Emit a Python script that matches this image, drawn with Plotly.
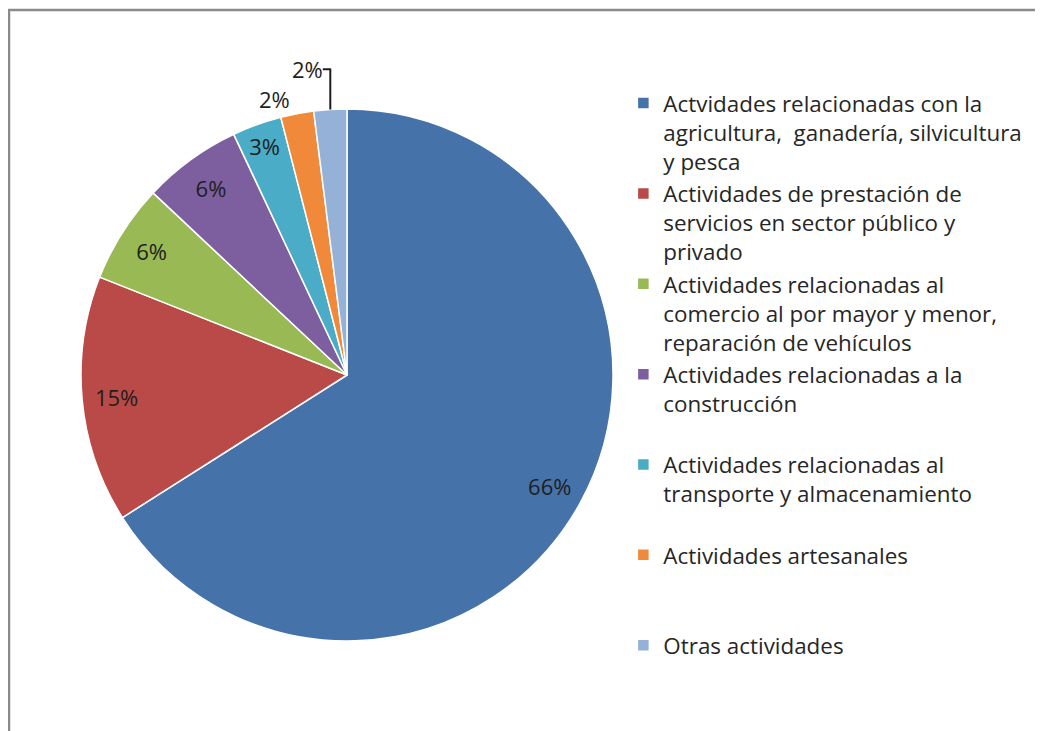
import plotly.graph_objects as go

# Data
labels = [
    "Actvidades relacionadas con la<br>agricultura,  ganadería, silvicultura<br>y pesca",
    "Actividades de prestación de<br>servicios en sector público y<br>privado",
    "Actividades relacionadas al<br>comercio al por mayor y menor,<br>reparación de vehículos",
    "Actividades relacionadas a la<br>construcción<br> ",
    "Actividades relacionadas al<br>transporte y almacenamiento<br> ",
    "Actividades artesanales<br> <br> ",
    "Otras actividades",
]
values = [66, 15, 6, 6, 3, 2, 2]
colors = ["#4672AA", "#BA4A47", "#98B954", "#7D5FA0", "#4AACC6", "#F08A3A", "#96B1D8"]
inside_pos = ["inside", "inside", "inside", "inside", "inside", "none", "none"]
outside_pos = ["none", "none", "none", "none", "none", "outside", "outside"]

W, H = 1043, 731
OFF = 8  # page body margin of the html file
dom = dict(x=[(81 - OFF) / W, (613 - OFF) / W],
           y=[(H - 641 + OFF) / H, (H - 109 + OFF) / H])
label_font = dict(family="Open Sans", size=22, color="#1e1e1e")

fig = go.Figure()

# Slices + the two small outside labels
fig.add_trace(go.Pie(
    labels=labels,
    values=values,
    sort=False,
    direction="clockwise",
    rotation=0,
    marker=dict(colors=colors, line=dict(color="white", width=1.5)),
    texttemplate="%{percent:.0%}",
    textposition=outside_pos,
    textfont=label_font,
    domain=dom,
    hoverinfo="label+percent",
))

# Transparent ring on top, only to put the inside labels near the rim
fig.add_trace(go.Pie(
    labels=labels,
    values=values,
    sort=False,
    direction="clockwise",
    rotation=0,
    hole=0.74,
    marker=dict(colors=["rgba(0,0,0,0)"] * len(values), line=dict(width=0)),
    texttemplate="%{percent:.0%}",
    textposition=inside_pos,
    insidetextorientation="horizontal",
    textfont=label_font,
    domain=dom,
    showlegend=False,
    hoverinfo="skip",
))

# Config layout
fig.update_layout(
    width=W,
    height=H,
    margin=dict(l=0, r=0, t=0, b=0),
    paper_bgcolor="white",
    plot_bgcolor="white",
    font=dict(family="Open Sans", size=22.4, color="#262626"),
    legend=dict(
        x=0.59,
        y=1 - 74 / H,
        xanchor="left",
        yanchor="top",
        valign="top",
        maxheight=H,
        font=dict(family="Open Sans", size=22.4, color="#262626"),
        bgcolor="rgba(0,0,0,0)",
    ),
    uniformtext=dict(minsize=22, mode="show"),
    shapes=[dict(
        type="rect", xref="paper", yref="paper",
        x0=(9 - OFF) / W, x1=1.05, y0=-0.05, y1=1 - (10 - OFF) / H,
        line=dict(color="#8a8a8a", width=2.5),
        fillcolor="rgba(0,0,0,0)",
        layer="below",
    )],
)

fig.write_html("out.html")
